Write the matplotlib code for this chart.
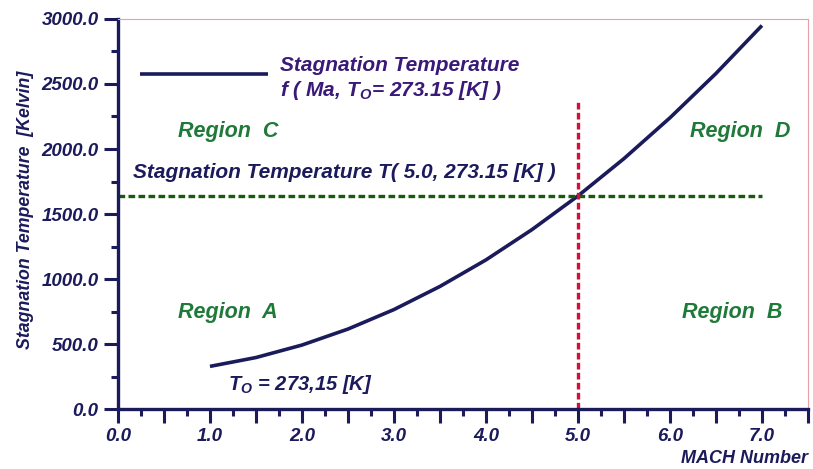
import numpy as np
import matplotlib.pyplot as plt
from matplotlib.ticker import MultipleLocator, FormatStrFormatter

# values
mach = [1.0, 1.5, 2.0, 2.5, 3.0, 3.5, 4.0, 4.5, 5.0, 5.5, 6.0, 6.5, 7.0]
t_stag = [328, 396, 492, 615, 765, 943, 1147, 1380, 1639, 1926, 2240, 2581, 2950]
mach_point = 5.0
t_point = 1639
regions = ['Region  C', 'Region  D', 'Region  A', 'Region  B']

navy = '#1b1b5c'
purple = '#3a1a78'
green = '#1f7a3a'

plt.rcParams['font.family'] = 'Liberation Sans'
plt.rcParams['font.weight'] = 'bold'
plt.rcParams['font.style'] = 'italic'

fig = plt.figure(figsize=(8.13, 4.69), dpi=100)
ax = fig.add_axes([0.1451, 0.1279, 0.8487, 0.8316])

ax.plot(mach, t_stag, color=navy, lw=2.6, solid_capstyle='butt')
ax.plot([0, 7.0], [t_point, t_point], color='#1a5a10', lw=2.4, ls=(0, (2.0, 1.0)))
ax.plot([mach_point, mach_point], [0, 2360], color='#d0103a', lw=2.4, ls=(0, (2.0, 1.0)))

# legend-like line and text
ax.plot([0.24, 1.63], [2577, 2577], color=navy, lw=2.6, solid_capstyle='butt')
ax.text(1.76, 2640, 'Stagnation Temperature', color=purple, fontsize=15, va='center')
ax.text(1.76, 2450, r'f ( Ma, T$_\mathregular{O}$= 273.15 [K] )', color=purple, fontsize=15, va='center')

ax.text(0.65, 2138, regions[0], color=green, fontsize=15.5, va='center')
ax.text(6.22, 2138, regions[1], color=green, fontsize=15.5, va='center')
ax.text(0.65, 746, regions[2], color=green, fontsize=15.5, va='center')
ax.text(6.13, 746, regions[3], color=green, fontsize=15.5, va='center')

ax.text(0.16, 1823, 'Stagnation Temperature T( 5.0, 273.15 [K] )', color=navy, fontsize=15, va='center')
ax.text(1.2, 185, r'T$_\mathregular{O}$ = 273,15 [K]', color=navy, fontsize=14.5, va='center')

ax.set_xlim(0, 7.5)
ax.set_ylim(0, 3000)
ax.xaxis.set_minor_locator(MultipleLocator(0.25))
ax.yaxis.set_major_locator(MultipleLocator(500))
ax.yaxis.set_minor_locator(MultipleLocator(250))
ax.yaxis.set_major_formatter(FormatStrFormatter('%.1f'))
xt = np.arange(0, 7.6, 0.5)
ax.set_xticks(xt)
ax.set_xticklabels(['%.1f' % v if v % 1 == 0 else '' for v in xt])

ax.tick_params(which='major', direction='out', length=10, width=2.2, color=navy,
               labelcolor=navy, labelsize=13.5, pad=4)
ax.tick_params(which='minor', direction='out', length=5, width=2.2, color=navy)
for lab in ax.get_xticklabels() + ax.get_yticklabels():
    lab.set_fontweight('bold')
    lab.set_fontstyle('italic')

for s in ['left', 'bottom']:
    ax.spines[s].set_color(navy)
    ax.spines[s].set_linewidth(2.4)
for s in ['top', 'right']:
    ax.spines[s].set_color('#e8a0a8')
    ax.spines[s].set_linewidth(0.8)

ax.set_ylabel('Stagnation Temperature  [Kelvin]', color=navy, fontsize=12.8,
              fontweight='bold', fontstyle='italic')
ax.yaxis.set_label_coords(-0.121, 0.51)
fig.text(0.994, 0.022, 'MACH Number', color=navy, fontsize=13, ha='right', va='center')

fig.savefig('out.png', dpi=100)
